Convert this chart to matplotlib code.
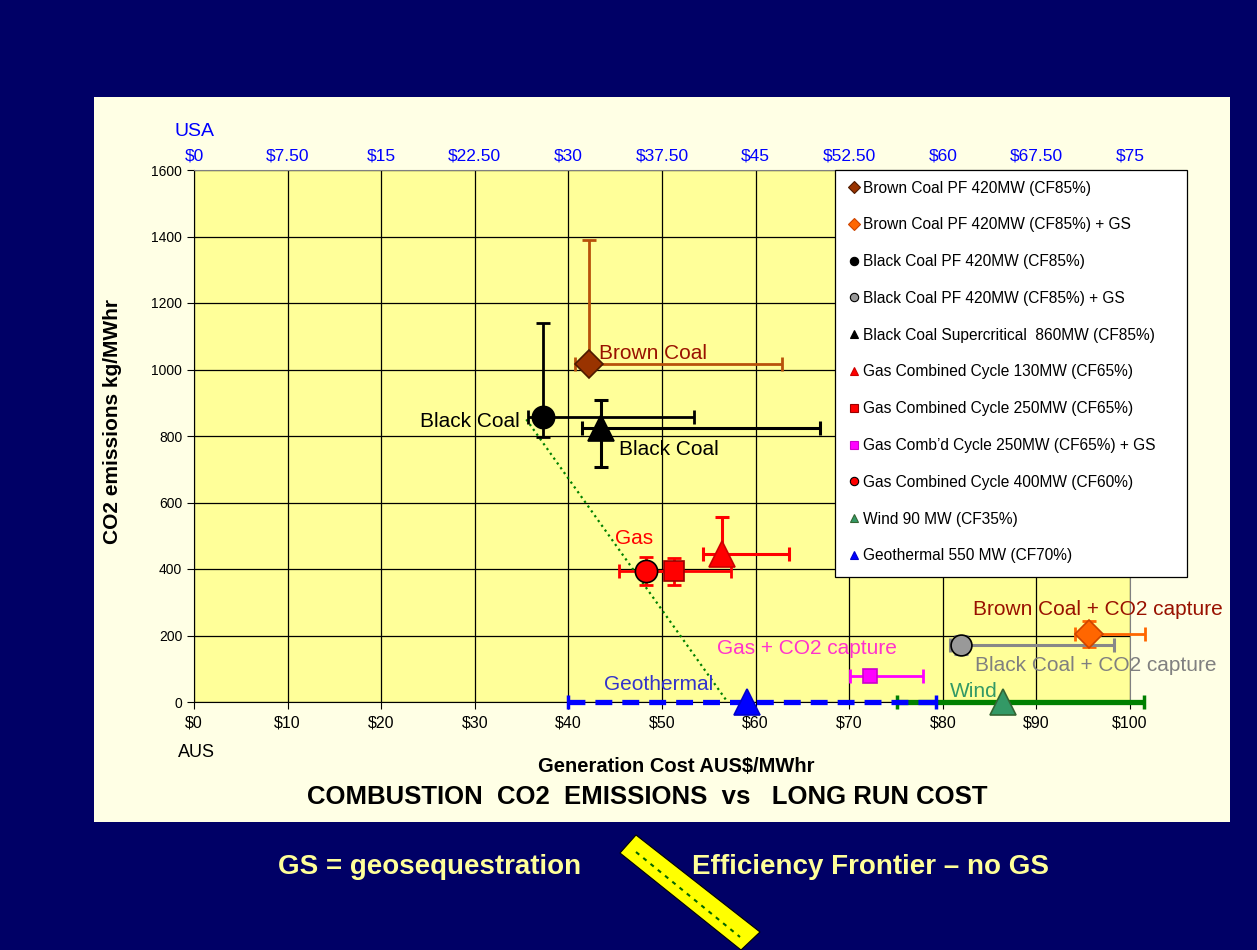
import matplotlib

matplotlib.use("Agg")
import matplotlib.pyplot as plt
from matplotlib.lines import Line2D
from matplotlib.patches import Polygon, Rectangle

plt.rcParams["font.family"] = ["Liberation Sans", "DejaVu Sans"]

# ---- data (AUS$/MWhr, kg CO2/MWhr) ----
SERIES = [
    "Brown Coal PF 420MW (CF85%)",
    "Brown Coal PF 420MW (CF85%) + GS",
    "Black Coal PF 420MW (CF85%)",
    "Black Coal PF 420MW (CF85%) + GS",
    "Black Coal Supercritical  860MW (CF85%)",
    "Gas Combined Cycle 130MW (CF65%)",
    "Gas Combined Cycle 250MW (CF65%)",
    "Gas Comb\u2019d Cycle 250MW (CF65%) + GS",
    "Gas Combined Cycle 400MW (CF60%)",
    "Wind 90 MW (CF35%)",
    "Geothermal 550 MW (CF70%)",
]
cost = [42.2, 95.6, 37.3, 81.9, 43.5, 56.4, 51.3, 72.2, 48.3, 86.4, 59.1]
cost_low = [40.7, 94.1, 35.7, 80.8, 41.5, 54.4, 48.6, 70.1, 45.4, 75.1, 40.0]
cost_high = [62.8, 101.6, 53.4, 98.3, 66.9, 63.6, 57.4, 77.9, 51.0, 101.5, 79.3]
emissions = [1016, 205, 857, 171, 824, 445, 394, 78, 394, 0, 0]
emis_low = [1016, 166, 797, 145, 707, 445, 352, 78, 352, 0, 0]
emis_high = [1390, 244, 1140, 198, 908, 557, 433, 78, 436, 0, 0]

# efficiency frontier (no GS)
frontier_x = [35.5, 57.0]
frontier_y = [850, 0]

aus_ticks = list(range(0, 101, 10))
aus_labels = [f"${v}" for v in aus_ticks]
usa_labels = ["$0", "$7.50", "$15", "$22.50", "$30", "$37.50",
              "$45", "$52.50", "$60", "$67.50", "$75"]

# text labels on the chart: (text, x, y, ha, colour)
annotations = [
    ("Brown Coal", 43.3, 1047, "left", "#991100"),
    ("Black Coal", 34.8, 845, "right", "black"),
    ("Black Coal", 45.4, 758, "left", "black"),
    ("Gas", 45.0, 493, "left", "#FF0000"),
    ("Gas + CO2 capture", 55.9, 162, "left", "#FF33CC"),
    ("Geothermal", 43.8, 54, "left", "#3333CC"),
    ("Wind", 80.8, 33, "left", "#339966"),
    ("Brown Coal + CO2 capture", 83.2, 277, "left", "#991100"),
    ("Black Coal + CO2 capture", 83.4, 111, "left", "#808080"),
]

# ---- styles ----
markers = ["D", "D", "o", "o", "^", "^", "s", "s", "o", "^", "^"]
face = ["#993300", "#FF6600", "black", "#999999", "black", "#FF0000",
        "#FF0000", "#FF00FF", "#FF0000", "#339966", "#0000FF"]
edge = ["#4D1A00", "#CC4400", "black", "black", "black", "#CC0000",
        "#990000", "#CC00CC", "black", "#336633", "#0000CC"]
msize = [14, 14, 16, 15, 19, 19, 14, 10, 16, 19, 19]
err_col = ["#B8520A", "#FF6600", "black", "#888888", "black", "#FF0000",
           "#FF0000", "#FF00FF", "#FF0000", "#008000", "#0000FF"]
err_lw = [2, 2, 2, 2.2, 2.2, 2.2, 2, 2, 2, 3.8, 3.8]

W, H = 1257, 950
fig = plt.figure(figsize=(W / 100, H / 100), dpi=100, facecolor="#000066")

# light panel behind the chart
fig.add_artist(Rectangle((94 / W, 1 - 822 / H), (1230 - 94) / W, (822 - 97) / H,
                         transform=fig.transFigure, facecolor="#FFFFE5",
                         edgecolor="none", zorder=0))

ax = fig.add_axes([194 / W, 1 - 702 / H, (1130 - 194) / W, (702 - 170) / H])
ax.set_facecolor("#FFFF99")
ax.set_xlim(0, 100)
ax.set_ylim(0, 1600)
ax.set_xticks(aus_ticks, aus_labels, fontsize=11.5)
ax.set_yticks(range(0, 1601, 200))
ax.tick_params(axis="y", labelsize=10, length=5, direction="out")
ax.tick_params(axis="x", length=5, direction="out", pad=5)
ax.grid(True, color="black", linewidth=0.9)
ax.set_axisbelow(True)
for side in ["top", "right"]:
    ax.spines[side].set_color("#808080")
for side in ["left", "bottom"]:
    ax.spines[side].set_color("black")

ax.plot(frontier_x, frontier_y, linestyle=":", color="#008000",
        linewidth=1.6, zorder=3)

order = [10, 9, 0, 1, 2, 3, 4, 5, 6, 7, 8]
for i in order:
    xerr = [[cost[i] - cost_low[i]], [cost_high[i] - cost[i]]]
    yerr = [[emissions[i] - emis_low[i]], [emis_high[i] - emissions[i]]]
    has_y = emis_high[i] != emis_low[i]
    eb = ax.errorbar(
        [cost[i]], [emissions[i]], xerr=xerr, yerr=yerr if has_y else None,
        fmt="none", ecolor=err_col[i], elinewidth=err_lw[i], capsize=5,
        capthick=err_lw[i] if i < 9 else 2.5, zorder=4 if i != 10 else 5,
        clip_on=False,
    )
    if i == 10:
        eb[2][0].set_linestyle((0, (3.2, 1.9)))
    ax.plot([cost[i]], [emissions[i]], marker=markers[i], markersize=msize[i],
            markerfacecolor=face[i], markeredgecolor=edge[i],
            markeredgewidth=1.2, linestyle="none", zorder=6, clip_on=False)

for text, x, y, ha, col in annotations:
    ax.text(x, y, text, ha=ha, va="center", fontsize=15, color=col,
            zorder=7, clip_on=False)

ax.set_ylabel("CO2 emissions kg/MWhr", fontsize=15, fontweight="bold")
ax.yaxis.set_label_coords(-0.077, 0.528)
ax.set_xlabel("Generation Cost AUS$/MWhr", fontsize=14.5, fontweight="bold")
ax.xaxis.set_label_coords(0.515, -0.104)
ax.text(0.003, -0.095, "AUS", transform=ax.transAxes, fontsize=13, ha="center",
        va="center")

top = ax.twiny()
top.set_xlim(ax.get_xlim())
top.set_xticks(aus_ticks, usa_labels, fontsize=12.5, color="#0000FF")
top.tick_params(axis="x", length=0, pad=5, colors="#0000FF")
for s in top.spines.values():
    s.set_visible(False)
ax.text(0.0, 1.072, "USA", transform=ax.transAxes, fontsize=14,
        color="#0000FF", ha="center", va="center")

fig.text(647 / W, 1 - 797 / H, "COMBUSTION  CO2  EMISSIONS  vs   LONG RUN COST",
         ha="center", va="center", fontsize=18.5, fontweight="bold")

# legend box (white panel with black frame) and its entries
fig.add_artist(Rectangle((835 / W, 1 - 577 / H), (1187 - 835) / W, (577 - 170) / H,
                         transform=fig.transFigure, facecolor="white",
                         edgecolor="black", linewidth=0.9, zorder=9))
handles = [Line2D([], [], marker=markers[i], markersize=6 if markers[i] != "s" else 5.5,
                  markerfacecolor=face[i], markeredgecolor=edge[i],
                  markeredgewidth=0.8, linestyle="none")
           for i in range(len(SERIES))]
leg = fig.legend(handles, SERIES, loc="upper left",
                 bbox_to_anchor=(838 / W, 1 - 172 / H), borderaxespad=0,
                 fontsize=11.2, labelspacing=1.40, handletextpad=0.15,
                 handlelength=0.9, borderpad=0.55, frameon=False)
leg.set_zorder(10)

# footer
fig.text(430 / W, 1 - 867 / H, "GS = geosequestration", ha="center",
         va="center", fontsize=20, fontweight="bold", color="#FFFF99")
fig.text(870 / W, 1 - 867 / H, "Efficiency Frontier \u2013 no GS", ha="center",
         va="center", fontsize=20, fontweight="bold", color="#FFFF99")
icon = [(636, 835), (620, 853), (741, 950), (760, 932)]
fig.add_artist(Polygon([(x / W, 1 - y / H) for x, y in icon], closed=True,
                       transform=fig.transFigure, facecolor="#FFFF00",
                       edgecolor="black", linewidth=0.8))
fig.add_artist(Line2D([636 / W, 740 / W], [1 - 852 / H, 1 - 937 / H],
                      transform=fig.transFigure, color="#006600",
                      linestyle=(0, (2, 2.5)), linewidth=1.5))

fig.savefig("out.png", dpi=100, facecolor=fig.get_facecolor())
